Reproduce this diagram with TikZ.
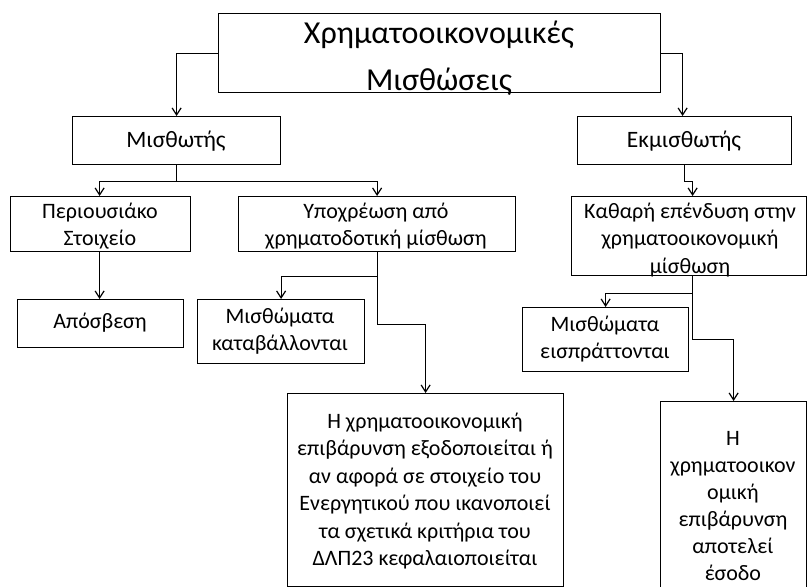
\documentclass[tikz,border=0pt]{standalone}
\usepackage{fontspec}
\setmainfont{Carlito}
\usetikzlibrary{arrows.meta}
\begin{document}
\begin{tikzpicture}[x=1pt,y=-1pt,
  box/.style={draw=black, line width=1.2pt, rectangle, inner sep=0pt, anchor=north west},
  lbl/.style={align=center, inner sep=0pt, text=black, font=\fontsize{22}{27.5}\selectfont},
  big/.style={lbl, font=\fontsize{23.5}{28}\selectfont},
  conn/.style={draw=black, line width=1.2pt, -{Straight Barb[length=7pt,width=9pt]}}]
\useasboundingbox (0,0) rectangle (807,587);
% boxes
\node[box, minimum width=442pt, minimum height=79pt] (top) at (218,13) {};
\node[box, minimum width=208pt, minimum height=48pt] (mis) at (72,116) {};
\node[box, minimum width=214pt, minimum height=48pt] (ekm) at (577,116) {};
\node[box, minimum width=180pt, minimum height=55pt] (per) at (10,196) {};
\node[box, minimum width=277pt, minimum height=55pt] (ypo) at (238,196) {};
\node[box, minimum width=235pt, minimum height=79pt] (kath) at (571,196) {};
\node[box, minimum width=166pt, minimum height=48pt] (apo) at (17,299) {};
\node[box, minimum width=167pt, minimum height=64pt] (mk) at (197,299) {};
\node[box, minimum width=166pt, minimum height=64pt] (mei) at (522,307) {};
\node[box, minimum width=276pt, minimum height=193pt] (hb) at (287,393) {};
\node[box, minimum width=146pt, minimum height=200pt] (rb) at (660,401) {};
% labels
\node[lbl, font=\fontsize{32}{47}\selectfont] (ttop) at (439,58) {Χρηματοοικονομικές\\Μισθώσεις};
\node[big] (tmis) at (176,141) {Μισθωτής};
\node[big] (tekm) at (684,141) {Εκμισθωτής};
\node[lbl] (tper) at (100,226) {Περιουσιάκο\\Στοιχείο};
\node[lbl] (typo) at (376,226) {Υποχρέωση από\\χρηματοδοτική μίσθωση};
\node[lbl] (tkath) at (690,240) {Καθαρή επένδυση στην\\χρηματοοικονομική\\μίσθωση};
\node[lbl] (tapo) at (100,323) {Απόσβεση};
\node[lbl] (tmk) at (280,331) {Μισθώματα\\καταβάλλονται};
\node[lbl] (tmei) at (605,339) {Μισθώματα\\εισπράττονται};
\node[lbl] (thb) at (425,491) {Η χρηματοοικονομική\\επιβάρυνση εξοδοποιείται ή\\αν αφορά σε στοιχείο του\\Ενεργητικού που ικανοποιεί\\τα σχετικά κριτήρια του\\ΔΛΠ23 κεφαλαιοποιείται};
\node[lbl, font=\fontsize{22}{27}\selectfont] (trb) at (733,506) {Η\\χρηματοοικον\\ομική\\επιβάρυνση\\αποτελεί\\έσοδο};
% connectors
\draw[conn] (top.west) -| (mis.north);
\draw[conn] (top.east) -| ([xshift=-2pt]ekm.north);
\draw[conn] (mis.south) -- ++(0,16) -| ([xshift=-1pt]per.north);
\draw[conn] (mis.south) -- ++(0,16) -| (ypo.north);
\draw[conn] ([xshift=-1pt]per.south) -- ([xshift=-1pt]per.south |- apo.north);
\draw[conn] (ypo.south) -- ++(0,24) -| (mk.north);
\draw[conn] (ypo.south) -- ++(0,72) -| (hb.north);
\draw[conn] (ekm.south) -- ++(0,16) -| ([xshift=3.5pt]kath.north);
\draw[conn] ([xshift=3.5pt]kath.south) -- ++(0,17) -| (mei.north);
\draw[conn] ([xshift=3.5pt]kath.south) -- ++(0,63) -| (rb.north);
\end{tikzpicture}
\end{document}
